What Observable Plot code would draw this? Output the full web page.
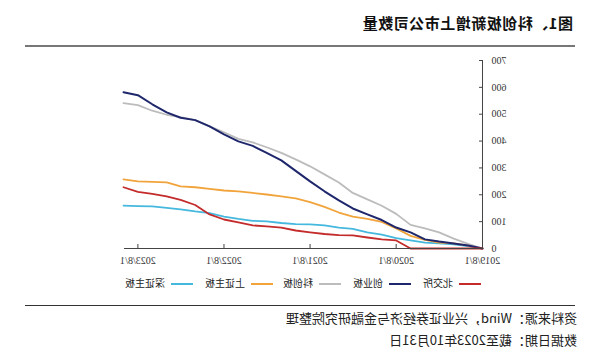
<!DOCTYPE html>
<html><head><meta charset="utf-8">
<script src="https://cdn.jsdelivr.net/npm/d3@7"></script>
<script src="https://cdn.jsdelivr.net/npm/@observablehq/plot@0.6"></script>
<style>
html,body{margin:0;padding:0;background:#fff;}
#page{position:relative;width:600px;height:354px;overflow:hidden;transform:scaleX(-1);font-family:"Liberation Serif","Noto Sans CJK SC",serif;color:#222;}
#title{position:absolute;left:27px;top:12px;font-size:15px;line-height:22px;font-weight:bold;font-family:"Noto Sans CJK SC",sans-serif;color:#111;letter-spacing:0.5px;white-space:nowrap;}
.rule{position:absolute;left:25px;width:550px;}
#chart{position:absolute;left:0;top:50px;}
#legend{position:absolute;left:0;top:276px;width:600px;height:14px;font-size:10px;font-family:"Noto Sans CJK SC",sans-serif;}
.item{position:absolute;top:0;height:14px;line-height:14px;white-space:nowrap;}
.sw{display:inline-block;width:22px;height:2px;vertical-align:middle;margin-right:6px;}
.note{position:absolute;left:23px;font-size:13px;line-height:16px;font-family:"Noto Sans CJK SC",sans-serif;white-space:nowrap;color:#222;}
</style></head>
<body>
<div id="page">
  <div id="title"></div>
  <div class="rule" style="top:45px;height:2px;background:#777;"></div>
  <div id="chart"></div>
  <div id="legend"></div>
  <div class="rule" style="top:305px;height:1px;background:#333;"></div>
  <div class="note" id="src" style="top:310px;"></div>
  <div class="note" id="asof" style="top:332px;"></div>
</div>
<script>
const titleText = "图1、科创板新增上市公司数量";
const sourceText = "资料来源：Wind，兴业证券经济与金融研究院整理";
const dateText = "数据日期：截至2023年10月31日";

const dates = ["2019-08-01","2019-10-01","2019-12-01","2020-02-01","2020-04-01","2020-06-01","2020-08-01","2020-10-01","2020-12-01","2021-02-01","2021-04-01","2021-06-01","2021-08-01","2021-10-01","2021-12-01","2022-02-01","2022-04-01","2022-06-01","2022-08-01","2022-10-01","2022-12-01","2023-02-01","2023-04-01","2023-06-01","2023-08-01","2023-10-01"];
const seriesNames = ["北交所","创业板","科创板","上证主板","深证主板"];
const bse    = [0,0,0,0,0,0,30,34,41,49,50,54,60,67,78,82,86,97,108,127,162,181,194,203,211,228];
const chinext= [0,11,19,26,34,60,78,106,127,149,179,213,250,289,328,356,382,399,425,455,478,487,507,537,571,582];
const star   = [0,17,37,60,75,88,129,159,183,207,246,276,306,332,356,377,395,408,433,455,478,489,498,513,534,541];
const shMain = [0,11,19,22,32,47,75,99,110,119,134,155,173,187,194,201,207,213,216,222,228,231,246,248,250,257];
const szMain = [0,9,15,19,22,30,39,52,60,73,78,86,90,91,95,101,103,110,119,132,138,146,151,157,158,160];
const colors = ["#c42b2b","#1f276c","#bcbcbc","#f2a43c","#45b8de"];
const yTicks = [0,100,200,300,400,500,600,700];
const xTickDates = ["2019-08-01","2020-08-01","2021-08-01","2022-08-01","2023-08-01"];

document.getElementById("title").textContent = titleText;
document.getElementById("src").textContent = sourceText;
document.getElementById("asof").textContent = dateText;

const parse = d3.utcParse("%Y-%m-%d");
const valuesBySeries = {"北交所": bse, "创业板": chinext, "科创板": star, "上证主板": shMain, "深证主板": szMain};
const drawOrder = ["深证主板","上证主板","科创板","创业板","北交所"];
const rows = [];
for (const s of drawOrder) {
  valuesBySeries[s].forEach((v, i) => rows.push({series: s, date: parse(dates[i]), value: v}));
}

const fmt = d3.utcFormat("%Y/%-m/%-d");
const chart = Plot.plot({
  width: 600, height: 222,
  marginLeft: 117, marginRight: 124, marginTop: 10, marginBottom: 24,
  style: {fontFamily: "'Liberation Serif', serif", fontSize: "10px", color: "#333", background: "transparent"},
  x: {type: "utc", domain: [parse(dates[0]), parse(dates[dates.length-1])]},
  y: {domain: [0, 700]},
  color: {domain: seriesNames, range: colors},
  marks: [
    Plot.axisY({ticks: yTicks, tickSize: 4, dx: 4, tickPadding: 9, label: null, stroke: "#444"}),
    Plot.axisX({ticks: xTickDates.map(parse), tickFormat: fmt, tickSize: 4, dy: -4, tickPadding: 8, label: null, stroke: "#444"}),
    Plot.line(rows, {x: "date", y: "value", z: "series", stroke: "series", strokeWidth: d => d.series === "创业板" ? 2 : 1.8, curve: "linear"}),
    Plot.ruleX([parse(dates[0])], {stroke: "#444", strokeWidth: 1}),
    Plot.ruleY([0], {stroke: "#444", strokeWidth: 1})
  ]
});
document.getElementById("chart").appendChild(chart);

const legendLefts = [119, 189, 259, 327, 407];
const legend = document.getElementById("legend");
seriesNames.forEach((name, i) => {
  const it = document.createElement("div");
  it.className = "item";
  it.style.left = legendLefts[i] + "px";
  const sw = document.createElement("span");
  sw.className = "sw";
  sw.style.background = colors[i];
  it.appendChild(sw);
  it.appendChild(document.createTextNode(name));
  legend.appendChild(it);
});
</script>
</body></html>
